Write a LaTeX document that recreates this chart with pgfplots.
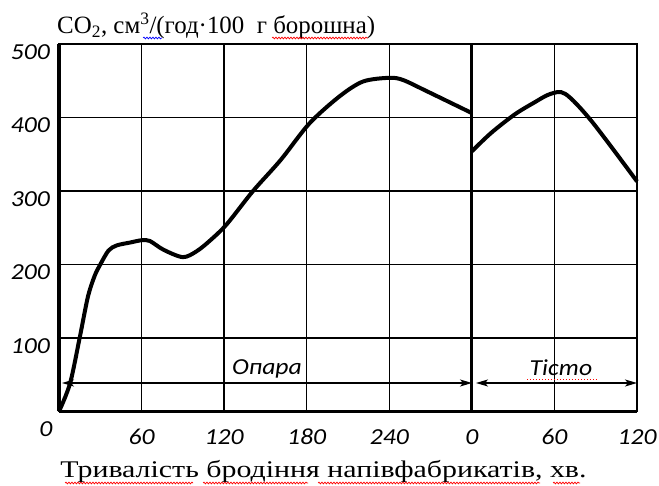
\documentclass[border=0pt]{standalone}
\usepackage{fontspec}
\setmainfont{Liberation Serif}
\newfontfamily\tickfont[FakeStretch=1.12]{Carlito}
\newfontfamily\labelfont[FakeStretch=1.25]{Liberation Serif}
\usepackage{pgfplots}
\pgfplotsset{compat=1.18}
\usetikzlibrary{arrows.meta,decorations.pathmorphing}

\pgfplotstableread{
t v
0 0
8 38
15 100
21 156
26 185
30 200
36 219
42 226
52 230
60 233
66 232
76 220
90 210
100 218
110 233
122 255
141 300
161 342
182 392
204 429
221 449
240 454
250 451
267 436
300 406
}\opara
% Tisto: time shifted by 300 min on the axis
\pgfplotstableread{
t v
300 354
314 379
331 404
345 420
357 432
368 432
387 395
420 313
}\tisto

\begin{document}
\begin{tikzpicture}[x=1bp,y=1bp]
\useasboundingbox (-59,-74.5) rectangle (600,411.5);
\begin{axis}[
  at={(0,0)}, anchor=south west,
  scale only axis, width=578bp, height=367.5bp,
  xmin=0, xmax=420, ymin=0, ymax=500,
  xtick={60,120,180,240,300,360,420},
  xticklabels={60,120,180,240,0,60,120},
  ytick={100,200,300,400,500},
  yticklabels={100,200,300,400,500},
  grid=major, major grid style={black, line width=1.5bp},
  major tick length=0pt,
  axis line style={black, line width=1.8bp},
  tick label style={font=\tickfont\itshape\fontsize{23}{23}\selectfont, inner sep=0pt},
  /pgf/number format/assume math mode=true,
  xticklabel style={anchor=center, yshift=-25.5bp},
  yticklabel style={anchor=east, xshift=-9bp, yshift=-8bp},
  clip=false,
]
\addplot[black, line width=4bp, smooth, tension=0.5] table[x=t,y=v] {\opara};
\addplot[black, line width=4bp, smooth, tension=0.5] table[x=t,y=v] {\tisto};
\draw[black, line width=3.2bp] (axis cs:0,0) -- (axis cs:0,500);
\draw[black, line width=3.2bp] (axis cs:0,0) -- (axis cs:420,0);
\draw[black, line width=3bp] (axis cs:300,0) -- (axis cs:300,500);
\end{axis}
% arrows for the two stages
\draw[line width=1.3bp, {Stealth[length=12bp,width=7bp,inset=3bp]}-{Stealth[length=12bp,width=7bp,inset=3bp]}] (3,28.5) -- (413,28.5);
\draw[line width=1.3bp, {Stealth[length=12bp,width=7bp,inset=3bp]}-{Stealth[length=12bp,width=7bp,inset=3bp]}] (417,28.5) -- (578,28.5);
\node[anchor=base, inner sep=0pt, font=\tickfont\itshape\fontsize{23}{23}\selectfont] at (208,36.5) {Опара};
\node[anchor=base, inner sep=0pt, font=\tickfont\itshape\fontsize{23}{23}\selectfont] at (502,35.5) {Тісто};
\node[inner sep=0pt, font=\tickfont\itshape\fontsize{23}{23}\selectfont] at (-13,-17.5) {0};
% title and x label
\node[anchor=base west, inner sep=0pt, font=\fontsize{25}{25}\selectfont] at (-2,378.2) {CO\textsubscript{2}, см\textsuperscript{3}/(год·100~~г борошна)};
\node[anchor=base, inner sep=0pt, font=\labelfont\fontsize{24}{24}\selectfont] at (264.5,-66.5) {Тривалість бродіння напівфабрикатів, хв.};
% spell-check underlines
\begin{scope}[decoration={snake, segment length=3bp, amplitude=0.9bp}, line width=0.7bp]
\draw[red, decorate] (213,373.5) -- (309,373.5);
\draw[blue, decorate] (84,373.5) -- (103,373.5);
\draw[red, decorate] (6,-71.5) -- (134,-71.5);
\draw[red, decorate] (144,-71.5) -- (249,-71.5);
\draw[red, decorate] (259,-71.5) -- (481,-71.5);
\draw[red, decorate] (494,-71.5) -- (521,-71.5);
\draw[red, dotted, line width=1bp] (468,32) -- (537,32);
\end{scope}
\end{tikzpicture}
\end{document}
